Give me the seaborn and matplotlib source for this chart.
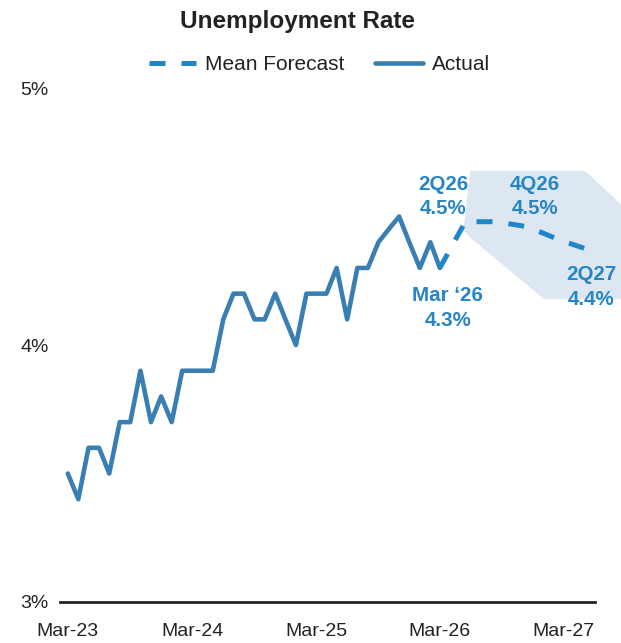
import pandas as pd
import matplotlib
matplotlib.use("Agg")
import matplotlib.pyplot as plt
import seaborn as sns

# Monthly unemployment rate (%), Mar 2023 - Mar 2026
actual_start = "2023-03-01"
actual_rate = [3.5, 3.4, 3.6, 3.6, 3.5, 3.7, 3.7, 3.9, 3.7, 3.8, 3.7, 3.9,
               3.9, 3.9, 3.9, 4.1, 4.2, 4.2, 4.1, 4.1, 4.2, 4.1, 4.0, 4.2,
               4.2, 4.2, 4.3, 4.1, 4.3, 4.3, 4.4, 4.45, 4.5, 4.4, 4.3, 4.4, 4.3]

# Mean forecast, plotted at mid-quarter
forecast_dates = ["2026-03-01", "2026-05-15", "2026-08-15", "2026-11-15",
                  "2027-02-15", "2027-05-15"]
forecast_rate = [4.3, 4.48, 4.48, 4.46, 4.41, 4.37]
forecast_quarters = ["", "2Q26", "", "4Q26", "", "2Q27"]

# Range of forecasts
band_dates = ["2026-05-08", "2026-05-28", "2027-01-01", "2027-05-01", "2027-08-15"]
band_upper = [4.45, 4.68, 4.68, 4.68, 4.55]
band_lower = [4.45, 4.42, 4.18, 4.18, 4.18]

tick_dates = ["2023-03-01", "2024-03-01", "2025-03-01", "2026-03-01", "2027-03-01"]
tick_labels = ["Mar-23", "Mar-24", "Mar-25", "Mar-26", "Mar-27"]
y_ticks = [3, 4, 5]

ACTUAL_C = "#3a7fb3"
FCAST_C = "#1f87c9"
LABEL_C = "#2585c6"
BAND_C = "#dde7f1"
INK = "#222222"

sns.set_theme(style="white")
plt.rcParams["font.family"] = ["Liberation Sans", "DejaVu Sans"]

actual_dates = pd.date_range(start=actual_start, periods=len(actual_rate), freq="MS")
actual_df = pd.DataFrame({"date": actual_dates, "rate": actual_rate})
fc_df = pd.DataFrame({"date": pd.to_datetime(forecast_dates), "rate": forecast_rate,
                      "quarter": forecast_quarters})
band_df = pd.DataFrame({"date": pd.to_datetime(band_dates),
                        "upper": band_upper, "lower": band_lower})

fig = plt.figure(figsize=(6.21, 6.43), dpi=100)
ax = fig.add_axes([0.0966, 0.0638, 0.8615, 0.7992])

ax.fill_between(band_df["date"], band_df["lower"], band_df["upper"],
                color=BAND_C, lw=0, zorder=1, clip_on=False)

sns.lineplot(data=actual_df, x="date", y="rate", ax=ax, color=ACTUAL_C,
             lw=3.3, label="Actual", zorder=3)
sns.lineplot(data=fc_df, x="date", y="rate", ax=ax, color=FCAST_C,
             lw=3.6, linestyle=(0, (3.2, 3.2)), label="Mean Forecast", zorder=3)

# Value call-outs
label_kw = dict(textcoords="offset pixels", ha="center", va="center",
                fontsize=14.8, fontweight="bold", color=LABEL_C,
                linespacing=1.35, zorder=5, annotation_clip=False)
label_offsets = {"2Q26": (-22, 25), "4Q26": (7, 30), "2Q27": (2, -37)}
for _, row in fc_df.iterrows():
    q = row["quarter"]
    if not q:
        continue
    ax.annotate(f"{q}\n{row['rate']:.1f}%", xy=(row["date"], row["rate"]),
                xytext=label_offsets[q], **label_kw)

last = actual_df.iloc[-1]
ax.annotate(f"Mar \u201826\n{last['rate']:.1f}%", xy=(last["date"], last["rate"]),
            xytext=(8, -40), **label_kw)

ax.set_xlim(pd.Timestamp("2023-02-06"), pd.Timestamp("2027-06-01"))
ax.set_ylim(3, 5)
ax.set_xticks(pd.to_datetime(tick_dates))
ax.set_xticklabels(tick_labels)
ax.set_yticks(y_ticks)
ax.set_yticklabels([f"{v}%" for v in y_ticks])
ax.tick_params(axis="both", length=0, labelsize=14, colors=INK)
ax.tick_params(axis="x", pad=15)
ax.tick_params(axis="y", pad=8)
ax.set_xlabel("")
ax.set_ylabel("")
for side in ["top", "right", "left"]:
    ax.spines[side].set_visible(False)
ax.spines["bottom"].set_color(INK)
ax.spines["bottom"].set_linewidth(2)

handles, labels = ax.get_legend_handles_labels()
order = [labels.index("Mean Forecast"), labels.index("Actual")]
ax.get_legend().remove()
fig.legend([handles[i] for i in order], [labels[i] for i in order],
           loc="center", bbox_to_anchor=(0.514, 0.9), ncol=2, frameon=False,
           fontsize=15, handlelength=2.3, columnspacing=1.5, handletextpad=0.4,
           labelcolor=INK)

fig.text(0.479, 0.966, "Unemployment Rate", ha="center", va="center",
         fontsize=17.5, fontweight="bold", color=INK)

fig.savefig("out.png", dpi=100)
